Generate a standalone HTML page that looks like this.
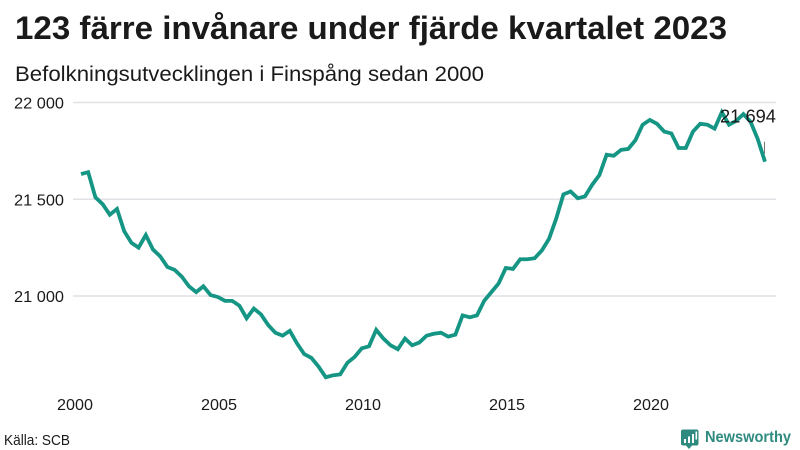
<!DOCTYPE html>
<html lang="sv">
<head>
<meta charset="utf-8">
<title>123 färre invånare under fjärde kvartalet 2023</title>
<style>
  html, body { margin: 0; padding: 0; background: #fff; }
  body { width: 800px; height: 450px; overflow: hidden; }
  svg { display: block; font-family: "Liberation Sans", "DejaVu Sans", sans-serif; }
  text { fill: #1a1a1a; }
</style>
</head>
<body>
<svg id="chart" width="800" height="450" viewBox="0 0 800 450" xmlns="http://www.w3.org/2000/svg">
  <rect width="800" height="450" fill="#fff"/>
  <text x="15" y="39" font-size="32" font-weight="700" textLength="712" lengthAdjust="spacingAndGlyphs">123 färre invånare under fjärde kvartalet 2023</text>
  <text x="15" y="81" font-size="21.5" textLength="469" lengthAdjust="spacingAndGlyphs">Befolkningsutvecklingen i Finspång sedan 2000</text>
  <g id="grid"></g>
  <g id="ylabels"></g>
  <g id="xlabels"></g>
  <path id="series" fill="none" stroke="#159584" stroke-width="3.8" stroke-linejoin="miter" stroke-linecap="butt"></path>
  <line id="leader" stroke="#555" stroke-width="0.8"></line>
  <text id="lastLabel" font-size="18.5" text-anchor="end"></text>
  <text x="4" y="445" font-size="14.5" textLength="66" lengthAdjust="spacingAndGlyphs">Källa: SCB</text>
  <g>
    <path d="M683 429.5 h13.5 a2 2 0 0 1 2 2 v12 a2 2 0 0 1 -2 2 h-4.5 l-3 3.5 l-3 -3.5 h-3 a2 2 0 0 1 -2 -2 v-12 a2 2 0 0 1 2 -2 z" fill="#2f8a80"/>
    <rect x="684" y="439" width="2" height="4" fill="#fff"/>
    <rect x="688" y="436.5" width="2" height="6.5" fill="#fff"/>
    <rect x="692" y="434" width="2" height="9" fill="#fff"/>
    <rect x="695.5" y="431.5" width="1.6" height="8" fill="#fff"/>
    <text x="705" y="442" font-size="16" font-weight="700" style="fill:#2f8a80" textLength="86" lengthAdjust="spacingAndGlyphs">Newsworthy</text>
  </g>
</svg>
<script>
const startYear = 2000;
const pointsPerYear = 4;
const yTicks = [21000, 21500, 22000];
const yTickLabels = ["21 000", "21 500", "22 000"];
const xTicks = [2000, 2005, 2010, 2015, 2020];
const xTickLabels = ["2000", "2005", "2010", "2015", "2020"];
const lastValueLabel = "21 694";
const population = [
  21630, 21640, 21510, 21475, 21420, 21450, 21335, 21275,
  21250, 21315, 21240, 21205, 21150, 21135, 21100, 21050,
  21020, 21050, 21005, 20995, 20975, 20975, 20950, 20885,
  20935, 20905, 20850, 20810, 20795, 20820, 20755, 20700,
  20680, 20635, 20580, 20590, 20595, 20655, 20685, 20730,
  20740, 20825, 20780, 20745, 20725, 20780, 20745, 20760,
  20795, 20805, 20810, 20790, 20800, 20900, 20890, 20900,
  20975, 21020, 21065, 21145, 21140, 21190, 21190, 21195,
  21235, 21295, 21400, 21525, 21540, 21505, 21515, 21575,
  21625, 21730, 21725, 21755, 21760, 21805, 21885, 21910,
  21890, 21850, 21840, 21765, 21765, 21850, 21890, 21885,
  21865, 21950, 21885, 21905, 21940, 21900, 21810, 21694
];

const NS = "http://www.w3.org/2000/svg";
function xScale(year) { return 81 + (year - startYear) * 28.8; }
function yScale(value) { return 102.5 + (22000 - value) * 0.1935; }

const grid = document.getElementById("grid");
const ylabels = document.getElementById("ylabels");
const xlabels = document.getElementById("xlabels");

yTicks.forEach(function (tick, i) {
  const line = document.createElementNS(NS, "line");
  
  
  line.setAttribute("x1", 73);
  line.setAttribute("x2", 776);
  line.setAttribute("y1", yScale(tick));
  line.setAttribute("y2", yScale(tick));
  line.setAttribute("stroke", "#e1e1e6");
  line.setAttribute("stroke-width", "1.5");
  grid.appendChild(line);

  const label = document.createElementNS(NS, "text");
  
  
  label.setAttribute("x", 64);
  label.setAttribute("y", yScale(tick) + 6);
  label.setAttribute("text-anchor", "end");
  label.setAttribute("font-size", "16");
  label.setAttribute("textLength", "50");
  label.setAttribute("lengthAdjust", "spacingAndGlyphs");
  label.textContent = yTickLabels[i];
  ylabels.appendChild(label);
});

xTicks.forEach(function (tick, i) {
  const label = document.createElementNS(NS, "text");
  
  
  label.setAttribute("x", xScale(tick) - 6);
  label.setAttribute("y", 410);
  label.setAttribute("text-anchor", "middle");
  label.setAttribute("font-size", "16");
  label.setAttribute("textLength", "36");
  label.setAttribute("lengthAdjust", "spacingAndGlyphs");
  label.textContent = xTickLabels[i];
  xlabels.appendChild(label);
});

const pathData = population.map(function (value, i) {
  const px = xScale(startYear + i / pointsPerYear);
  const py = yScale(value);
  return (i === 0 ? "M" : "L") + px.toFixed(2) + " " + py.toFixed(2);
}).join(" ");
document.getElementById("series").setAttribute("d", pathData);

const lastIndex = population.length - 1;
const lastX = xScale(startYear + lastIndex / pointsPerYear);
const lastY = yScale(population[lastIndex]);
const leader = document.getElementById("leader");
leader.setAttribute("x1", lastX - 0.5);
leader.setAttribute("x2", lastX - 0.5);
leader.setAttribute("y1", lastY - 20);
leader.setAttribute("y2", lastY - 8);
const lastLabel = document.getElementById("lastLabel");
lastLabel.setAttribute("x", lastX + 11);
lastLabel.setAttribute("y", lastY - 39);
lastLabel.setAttribute("textLength", "56");
lastLabel.setAttribute("lengthAdjust", "spacingAndGlyphs");
lastLabel.textContent = lastValueLabel;
</script>
</body>
</html>
